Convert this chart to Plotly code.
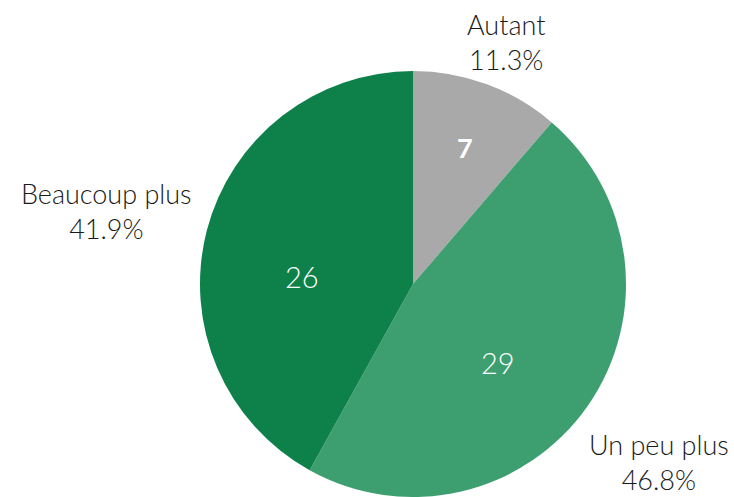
import plotly.graph_objects as go

labels = ["Autant", "Un peu plus", "Beaucoup plus"]
values = [7, 29, 26]
colors = ["#a9a9aa", "#3d9e70", "#0e804a"]

total = sum(values)
pcts = [f"{v / total * 100:.1f}%" for v in values]

fig = go.Figure(go.Pie(
    labels=labels,
    values=values,
    sort=False,
    direction="clockwise",
    rotation=0,
    marker=dict(colors=colors, line=dict(width=0)),
    textinfo="none",
    hoverinfo="label+value+percent",
    domain=dict(x=[200 / 734, 626 / 734], y=[0, 426 / 497]),
    showlegend=False,
))

W, H = 734, 497
# value labels inside the slices
value_pos = {
    "Autant": (465, 148),
    "Un peu plus": (498, 362),
    "Beaucoup plus": (302, 276),
}
value_style = {
    "Autant": dict(size=27, weight="bold"),
    "Un peu plus": dict(size=29, weight=300),
    "Beaucoup plus": dict(size=29, weight=300),
}
# outside category labels with share
label_pos = {
    "Autant": (506, 42),
    "Beaucoup plus": (107, 211),
    "Un peu plus": (659, 462),
}
for lab, val, pct in zip(labels, values, pcts):
    vx, vy = value_pos[lab]
    fig.add_annotation(
        x=vx / W, y=1 - vy / H, xref="paper", yref="paper",
        xanchor="center", yanchor="middle",
        text=str(val), showarrow=False,
        font=dict(family="Lato", color="white", **value_style[lab]),
    )
    px, py = label_pos[lab]
    fig.add_annotation(
        x=px / W, y=1 - py / H, xref="paper", yref="paper",
        xanchor="center", yanchor="middle",
        text=f"{lab}<br>{pct}", showarrow=False, align="center",
        font=dict(family="Lato", size=27, color="#1a1a1a", weight=300),
    )

fig.update_layout(
    width=W, height=H,
    margin=dict(l=0, r=0, t=0, b=0),
    paper_bgcolor="white",
    plot_bgcolor="white",
)

fig.write_html("out.html")
